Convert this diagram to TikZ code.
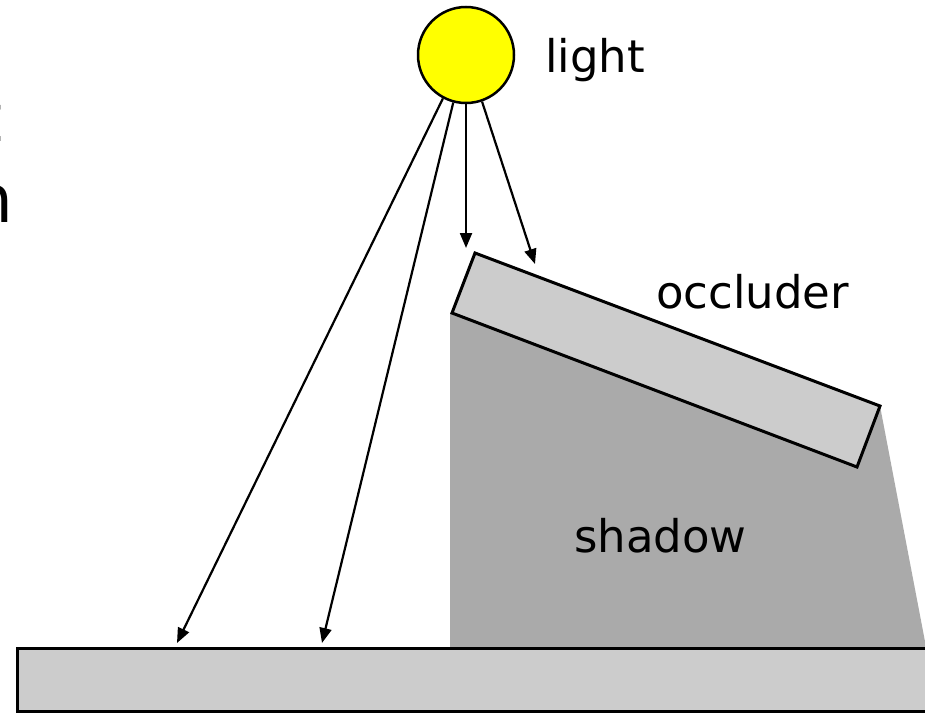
\documentclass[tikz,border=0pt]{standalone}
\usepackage{fontspec}
\setmainfont{DejaVu Sans}
\usetikzlibrary{arrows.meta}
\definecolor{sunyellow}{HTML}{FFFF00}
\definecolor{lightgr}{HTML}{CCCCCC}
\definecolor{shadowgr}{HTML}{AAAAAA}
\tikzset{
  ray/.style={line width=2.2pt, -{Triangle[length=15pt,width=12pt]}},
  solidbox/.style={draw=black, line width=3pt, fill=lightgr, line join=miter},
  label/.style={inner sep=0pt, font=\fontsize{45}{54}\selectfont, anchor=base west},
  bigfrag/.style={inner sep=0pt, font=\fontsize{66}{79}\selectfont, anchor=base east}
}
\begin{document}
\begin{tikzpicture}[x=1pt, y=-1pt]
\useasboundingbox (0,0) rectangle (925,712);
\clip (0,0) rectangle (925,712);
% clipped text fragments at left edge
\node[bigfrag] (fragt) at (3,141) {t};
\node[bigfrag] (fragn) at (14,222) {n};
% shadow region
\fill[shadowgr] (452,313) -- (880,406) -- (940,720) -- (450,720) -- (450,313) -- cycle;
% occluder
\draw[solidbox] (475,253) -- (880,406) -- (857,467) -- (452,313) -- cycle;
\node[inner sep=0pt] (occ) at (666,360) {};
% ground
\draw[solidbox] (17,648) rectangle (940,711);
\node[inner sep=0pt] (ground) at (470,680) {};
% light source
\node[circle, draw=black, line width=2.5pt, fill=sunyellow, minimum size=96pt, inner sep=0pt] (sun) at (466,55) {};
% labels
\node[label] (lightlbl) at (545,72) {light};
\node[label] (occlbl) at (656,308) {occluder};
\node[label] (shadowlbl) at (574,552) {shadow};
% ray end points
\coordinate (e1) at (177,643);
\coordinate (e2) at (322,643);
\coordinate (e3) at (466,248);
\coordinate (e4) at (535,264);
\draw[ray] (sun.-118.6) -- (e1);
\draw[ray] (sun.-105) -- (e2);
\draw[ray] (sun.-90) -- (e3);
\draw[ray] (sun.-71) -- (e4);
\end{tikzpicture}
\end{document}
